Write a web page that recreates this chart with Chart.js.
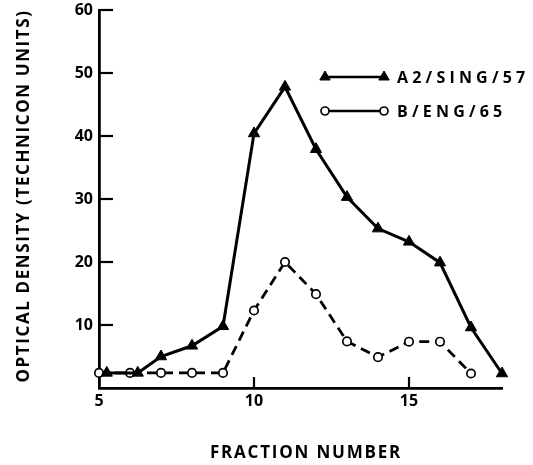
<!DOCTYPE html>
<html>
<head>
<meta charset="utf-8">
<script src="https://cdn.jsdelivr.net/npm/chart.js@4.4.0/dist/chart.umd.min.js"></script>
<style>
  html, body { margin: 0; padding: 0; background: #fff; }
  #wrap { width: 533px; height: 465px; }
</style>
</head>
<body>
<div id="wrap"><canvas id="c" width="533" height="465"></canvas></div>
<script>
// Elution profiles of two virus strains across collected fractions
const fractionsA = [5.25, 6.25, 7, 8, 9, 10, 11, 12, 13, 14, 15, 16, 17, 18];
const densityA   = [2.4, 2.4, 5.0, 6.7, 9.8, 40.4, 47.8, 37.9, 30.3, 25.3, 23.2, 19.9, 9.6, 2.3];
const fractionsB = [5, 6, 7, 8, 9, 10, 11, 12, 13, 14, 15, 16, 17];
const densityB   = [2.4, 2.4, 2.4, 2.4, 2.4, 12.3, 20, 14.9, 7.4, 4.9, 7.35, 7.35, 2.3];
const xTicks = [5, 10, 15];
const yTicks = [10, 20, 30, 40, 50, 60];
const seriesNames = ['A2/SING/57', 'B/ENG/65'];
const xTitle = 'FRACTION NUMBER';
const yTitle = 'OPTICAL DENSITY (TECHNICON UNITS)';

const FONT = '"Open Sans", "DejaVu Sans", sans-serif';
const INK = '#000';

const toPoints = (xs, ys) => xs.map((x, i) => ({ x: x, y: ys[i] }));

// Tick marks pointing into the plot area
const innerTicks = {
  id: 'innerTicks',
  afterDatasetsDraw(chart) {
    const ctx = chart.ctx;
    const xs = chart.scales.x, ys = chart.scales.y;
    const left = xs.left, bottom = ys.bottom;
    ctx.save();
    ctx.setLineDash([]);
    ctx.strokeStyle = INK;
    ctx.lineWidth = 2.2;
    for (const v of yTicks) {
      const py = Math.round(ys.getPixelForValue(v));
      ctx.beginPath();
      ctx.moveTo(left, py);
      ctx.lineTo(left + 14, py);
      ctx.stroke();
    }
    for (const v of xTicks) {
      if (v === xs.min) continue;
      const px = Math.round(xs.getPixelForValue(v));
      ctx.beginPath();
      ctx.moveTo(px, bottom);
      ctx.lineTo(px, bottom - 11);
      ctx.stroke();
    }
    ctx.restore();
  }
};

// Letter-spaced axis titles and the two-line key
const decor = {
  id: 'decor',
  afterDraw(chart) {
    const ctx = chart.ctx;
    ctx.save();
    ctx.fillStyle = INK;
    ctx.font = 'bold 17px ' + FONT;
    ctx.textAlign = 'center';
    ctx.textBaseline = 'middle';
    ctx.letterSpacing = '1.8px';
    ctx.fillText(xTitle, 306, 453);

    ctx.save();
    ctx.translate(24, 196);
    ctx.rotate(-Math.PI / 2);
    ctx.letterSpacing = '1.6px';
    ctx.fillText(yTitle, 0, 0);
    ctx.restore();

    // key: a short solid line with a marker at each end, then the name
    const rowY = [77, 111];
    const x0 = 325, x1 = 384;
    chart.data.datasets.forEach((ds, i) => {
      const y = rowY[i];
      ctx.setLineDash([]);
      ctx.lineWidth = 2.6;
      ctx.strokeStyle = INK;
      ctx.beginPath();
      ctx.moveTo(x0, y);
      ctx.lineTo(x1, y);
      ctx.stroke();
      ctx.fillStyle = ds.pointBackgroundColor;
      ctx.strokeStyle = ds.pointBorderColor;
      ctx.lineWidth = ds.pointBorderWidth;
      [x0, x1].forEach(px => {
        Chart.helpers.drawPoint(ctx, {
          pointStyle: ds.pointStyle,
          radius: ds.pointStyle === 'triangle' ? 6 : 4,
          borderWidth: ds.pointBorderWidth,
          rotation: 0
        }, px, y);
      });
      ctx.fillStyle = INK;
      ctx.font = 'bold 16px ' + FONT;
      ctx.letterSpacing = '4.2px';
      ctx.textAlign = 'left';
      ctx.textBaseline = 'middle';
      ctx.fillText(ds.label, 397, y + 1);
    });
    ctx.restore();
  }
};

// keep the plot box fixed regardless of label overhang
const fixPadding = s => { s.paddingTop = 0; s.paddingBottom = 0; s.paddingLeft = 0; s.paddingRight = 0; };

new Chart(document.getElementById('c'), {
  type: 'line',
  data: {
    datasets: [
      {
        label: seriesNames[0],
        data: toPoints(fractionsA, densityA),
        borderColor: INK,
        borderWidth: 3,
        pointStyle: 'triangle',
        pointRadius: 6.5,
        pointBackgroundColor: INK,
        pointBorderColor: INK,
        pointBorderWidth: 1,
        tension: 0,
        clip: false
      },
      {
        label: seriesNames[1],
        data: toPoints(fractionsB, densityB),
        borderColor: INK,
        borderWidth: 2.8,
        borderDash: [10, 6],
        pointStyle: 'circle',
        pointRadius: 4.2,
        pointBackgroundColor: '#fff',
        pointBorderColor: INK,
        pointBorderWidth: 1.7,
        tension: 0,
        clip: false
      }
    ]
  },
  options: {
    responsive: false,
    animation: false,
    devicePixelRatio: 1,
    layout: { padding: { top: 10, right: 31, bottom: 0, left: 0 } },
    plugins: { legend: { display: false }, tooltip: { enabled: false } },
    scales: {
      x: {
        type: 'linear',
        min: 5,
        max: 18,
        afterFit: s => { s.height = 77; fixPadding(s); },
        afterBuildTicks: s => { s.ticks = xTicks.map(v => ({ value: v })); },
        grid: { display: false, drawTicks: false },
        border: { display: true, color: INK, width: 2.8 },
        ticks: { color: INK, padding: 4, font: { family: FONT, size: 16, weight: 'bold' }, maxRotation: 0 }
      },
      y: {
        type: 'linear',
        min: 0,
        max: 60,
        afterFit: s => { s.width = 99; fixPadding(s); },
        afterBuildTicks: s => { s.ticks = yTicks.map(v => ({ value: v })); },
        grid: { display: false, drawTicks: false },
        border: { display: true, color: INK, width: 2.8 },
        ticks: { color: INK, padding: 6, font: { family: FONT, size: 16, weight: 'bold' } }
      }
    }
  },
  plugins: [innerTicks, decor]
});
</script>
</body>
</html>
